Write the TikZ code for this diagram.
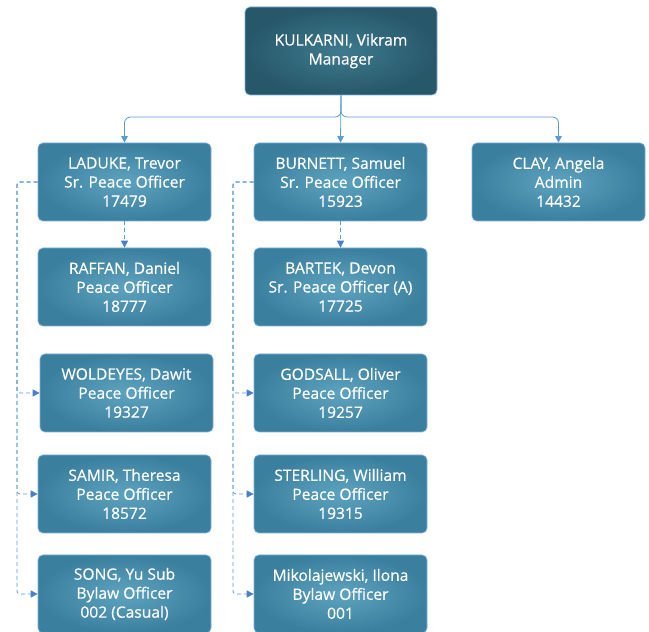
\documentclass[tikz,border=0pt]{standalone}
\usepackage{fontspec}
\setmainfont{Open Sans}[BoldFont={Open Sans},BoldFeatures={FakeBold=0.5}]
\usetikzlibrary{arrows.meta}
\definecolor{linkc}{HTML}{5B9BD5}
\definecolor{linkd}{HTML}{4A7FCC}
\definecolor{boxin}{HTML}{5DA3BF}
\definecolor{boxout}{HTML}{3B7F9E}
\definecolor{mgrin}{HTML}{3E7A8F}
\definecolor{mgrout}{HTML}{27586A}
\definecolor{boxline}{HTML}{7AAEDC}
\tikzset{
  x=1pt,y=1pt,
  person/.style={draw=boxline, line width=0.7pt, rounded corners=5pt, inner color=boxin, outer color=boxout,
    minimum width=173pt, minimum height=78pt, align=center, text=white, font=\fontsize{15.6}{19}\selectfont\bfseries, inner sep=0pt},
  mgr/.style={person, inner color=mgrin, outer color=mgrout, minimum width=192pt, minimum height=88pt},
  solidlink/.style={draw=linkc, line width=0.8pt, -{Triangle[length=6.5pt,width=6.5pt]}, rounded corners=6pt},
  dashlink/.style={draw=linkc, line width=0.8pt, dash pattern=on 4pt off 3pt, -{Triangle[length=7pt,width=7pt,color=linkd]}, rounded corners=3pt},
}
\begin{document}
\begin{tikzpicture}
\useasboundingbox (0,0) rectangle (649,632);
\node[mgr] (kul) at (341,581) {KULKARNI, Vikram\\Manager};
\node[person] (lad) at (124.5,450) {LADUKE, Trevor\\Sr. Peace Officer\\17479};
\node[person] (bur) at (340.5,450) {BURNETT, Samuel\\Sr. Peace Officer\\15923};
\node[person] (cla) at (558.5,450) {CLAY, Angela\\Admin\\14432};
\node[person] (raf) at (124.5,345) {RAFFAN, Daniel\\Peace Officer\\18777};
\node[person] (bar) at (340.5,345) {BARTEK, Devon\\Sr. Peace Officer (A)\\17725};
\node[person] (wol) at (126.5,239) {WOLDEYES, Dawit\\Peace Officer\\19327};
\node[person] (god) at (340.5,239) {GODSALL, Oliver\\Peace Officer\\19257};
\node[person] (sam) at (124.5,138) {SAMIR, Theresa\\Peace Officer\\18572};
\node[person] (ste) at (340.5,138) {STERLING, William\\Peace Officer\\19315};
\node[person] (son) at (124.5,38) {SONG, Yu Sub\\Bylaw Officer\\002 (Casual)};
\node[person] (mik) at (340.5,38) {Mikolajewski, Ilona\\Bylaw Officer\\001};
\coordinate (hub) at (341,515);
\draw[solidlink] (kul.south) -- (hub) -| (lad.north);
\draw[solidlink] (kul.south) -- (hub) -| (cla.north);
\draw[solidlink] (kul.south) -- (bur.north);
\draw[dashlink] (lad.south) -- (raf.north);
\draw[dashlink] (bur.south) -- (bar.north);
\coordinate (lx) at (17,0);
\coordinate (rx) at (233,0);
\draw[dashlink] (lad.west) -| (lx |- wol.west) -- (wol.west);
\draw[dashlink] (lad.west) -| (lx |- sam.west) -- (sam.west);
\draw[dashlink] (lad.west) -| (lx |- son.west) -- (son.west);
\draw[dashlink] (bur.west) -| (rx |- god.west) -- (god.west);
\draw[dashlink] (bur.west) -| (rx |- ste.west) -- (ste.west);
\draw[dashlink] (bur.west) -| (rx |- mik.west) -- (mik.west);
\end{tikzpicture}
\end{document}
